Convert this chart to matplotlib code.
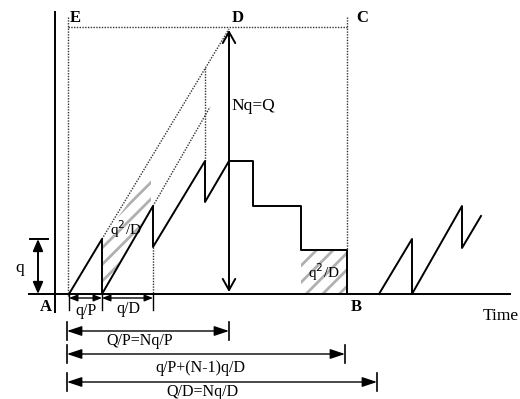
import matplotlib
matplotlib.use("Agg")
import matplotlib.pyplot as plt
from matplotlib.patches import Polygon, Rectangle

plt.rcParams['font.family'] = ['Liberation Serif', 'DejaVu Serif']
plt.rcParams['hatch.linewidth'] = 2.0

# all positions in picture pixels (x to the right, y downwards)
axis_y = 294
saw_x = [69, 102, 102, 153, 153, 205, 205, 229]
saw_y = [294, 239, 294, 206, 247, 161, 202, 161]
step_x = [229, 253, 253, 301, 301, 347, 347]
step_y = [161, 161, 206, 206, 250, 250, 294]
saw2_x = [379, 412, 412, 462, 462, 481]
saw2_y = [294, 239, 294, 206, 248, 216]

point_D = (229, 29)
top_y = 27
x_E, x_C = 68, 347

hatch1_x = [102, 102, 151, 151]
hatch1_y = [294, 239, 172, 206]
hatch2 = (301, 250, 347, 294)

# dimension arrows: (x0, x1, y, label, label_x, label_y)
dims = [
    (67, 229, 331, "Q/P=Nq/P", 140, 341),
    (67, 345, 354, "q/P+(N-1)q/D", 200, 368),
    (67, 377, 382, "Q/D=Nq/D", 202, 392),
]
small_dims = [
    (69, 102, 298, "q/P", 86, 311),
    (102, 153, 298, "q/D", 128, 309),
]

fig = plt.figure(figsize=(5.2, 3.99), dpi=100)
ax = fig.add_axes([0, 0, 1, 1])
ax.set_xlim(0, 520)
ax.set_ylim(399, 0)
ax.axis('off')

lw = 1.4
dot = dict(color='#333333', lw=1.0, ls=(0, (1, 1)))

# axes
ax.plot([29, 510], [axis_y, axis_y], color='black', lw=lw)
ax.plot([55, 55], [12, 312], color='black', lw=lw)

# dotted frame E-D-C
ax.plot([x_E, x_C], [top_y, top_y], **dot)
ax.plot([x_E, x_E], [17, 296], **dot)
ax.plot([x_C, x_C], [17, 250], **dot)

# hatched areas
ax.add_patch(Polygon(list(zip(hatch1_x, hatch1_y)), closed=True, fill=False,
                     hatch='//', edgecolor='#b0b0b0', lw=0))
ax.add_patch(Rectangle((hatch2[0], hatch2[1]), hatch2[2] - hatch2[0], hatch2[3] - hatch2[1],
                       fill=False, hatch='//', edgecolor='#b0b0b0', lw=0))

# dotted guide lines
ax.plot([saw_x[1], point_D[0]], [saw_y[1], point_D[1]], **dot)
ax.plot([saw_x[3], 210], [saw_y[3], 107], **dot)
ax.plot([205, 205], [68, 161], **dot)
ax.plot([153, 153], [247, 294], **dot)

# inventory lines
ax.plot(saw_x, saw_y, color='black', lw=lw)
ax.plot(step_x, step_y, color='black', lw=lw)
ax.plot(saw2_x, saw2_y, color='black', lw=lw)

# big Nq=Q arrow
ax.annotate("", xy=(229, 30), xytext=(229, 292),
            arrowprops=dict(arrowstyle='<->,head_length=0.8,head_width=0.45',
                            color='black', lw=lw, shrinkA=0, shrinkB=0))
ax.text(231, 106, "Nq=Q", fontsize=12.5, va='center', ha='left')

# q arrow on the left
ax.plot([30, 48], [239, 239], color='black', lw=lw)
ax.annotate("", xy=(38, 239), xytext=(38, 294),
            arrowprops=dict(arrowstyle='<|-|>,head_length=0.7,head_width=0.3',
                            color='black', lw=lw, shrinkA=0, shrinkB=0))
ax.text(20, 268, "q", fontsize=12.5, ha='center', va='center')

# small dims under axis
for x0, x1, y, lab, lx, ly in small_dims:
    ax.annotate("", xy=(x0, y), xytext=(x1, y),
                arrowprops=dict(arrowstyle='<|-|>,head_length=0.5,head_width=0.2',
                                color='black', lw=1.0, shrinkA=0, shrinkB=0))
    ax.text(lx, ly, lab, fontsize=11.5, ha='center', va='center')
for tx in [69, 102, 153]:
    ax.plot([tx, tx], [294, 310], color='black', lw=1.0)

# long dims
for x0, x1, y, lab, lx, ly in dims:
    ax.annotate("", xy=(x0, y), xytext=(x1, y),
                arrowprops=dict(arrowstyle='<|-|>,head_length=0.9,head_width=0.3',
                                color='black', lw=1.0, shrinkA=0, shrinkB=0))
    ax.plot([x0, x0], [y - 9, y + 9], color='black', lw=1.2)
    ax.plot([x1, x1], [y - 9, y + 9], color='black', lw=1.2)
    ax.text(lx, ly, lab, fontsize=11.5, ha='center', va='center')

# labels
ax.text(324, 272, "q$^2$/D", fontsize=11, ha='center', va='center')
ax.text(126, 229, "q$^2$/D", fontsize=11, ha='center', va='center')
for lab, lx, ly in [("E", 75, 18), ("D", 238, 18), ("C", 362, 18), ("A", 46, 307), ("B", 356, 307)]:
    ax.text(lx, ly, lab, fontsize=12, fontweight='bold', ha='center', va='center')
ax.text(501, 316, "Time", fontsize=12.5, ha='center', va='center')

fig.savefig("out.png", dpi=100)
